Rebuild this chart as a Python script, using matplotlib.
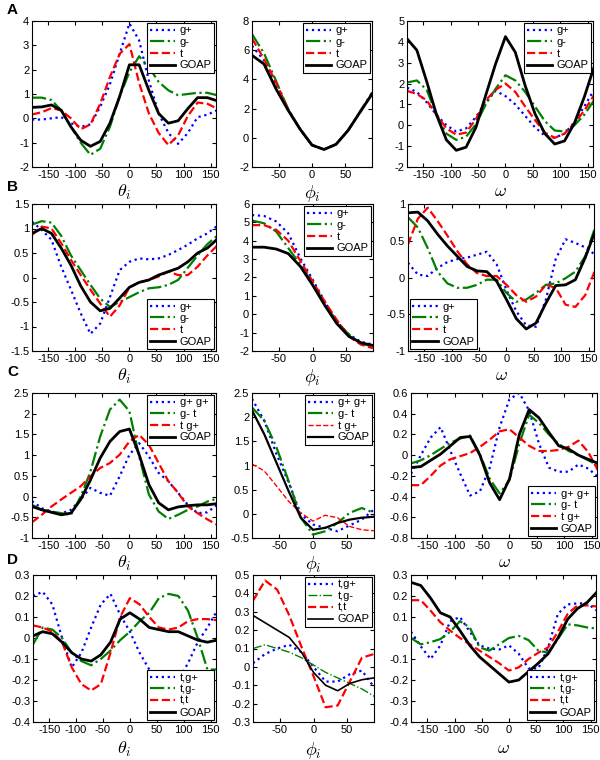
import numpy as np
import matplotlib
matplotlib.use('Agg')
import matplotlib.pyplot as plt

plt.rcParams['axes.unicode_minus'] = False
plt.rcParams['mathtext.fontset'] = 'cm'
plt.rcParams['font.family'] = ['Liberation Sans', 'DejaVu Sans']

# angle grids (degrees)
x_wide = [-180, -162, -144, -126, -108, -90, -72, -54, -36, -18,
          0, 18, 36, 54, 72, 90, 108, 126, 144, 162]
x_phi = [-90, -72, -54, -36, -18, 0, 18, 36, 54, 72, 90]

# ---- row A ----
a1_gp = [-0.05, -0.05, 0.0, 0.05, -0.2, -0.35, -0.25, 0.47, 1.4, 2.65, 3.9, 3.2, 1.55, 0.2, -0.6, -1.05, -0.6, 0.05, 0.15, 0.33]
a1_gm = [0.85, 0.85, 0.75, 0.33, -0.35, -1.0, -1.5, -1.25, -0.35, 0.9, 1.9, 2.55, 2.1, 1.5, 1.15, 0.95, 1.0, 1.05, 1.05, 0.95]
a1_t = [0.16, 0.25, 0.42, 0.33, 0.0, -0.45, -0.25, 0.6, 1.7, 2.65, 3.05, 1.45, 0.2, -0.6, -1.1, -0.7, 0.1, 0.65, 0.6, 0.4]
a1_goap = [0.45, 0.47, 0.55, 0.33, -0.35, -0.9, -1.15, -0.95, -0.2, 0.9, 2.2, 2.2, 1.15, 0.2, -0.2, -0.1, 0.4, 0.85, 0.85, 0.72]

a2_gp = [6.3, 5.3, 3.7, 1.95, 0.6, -0.5, -0.8, -0.45, 0.5, 1.75, 3.0]
a2_gm = [7.1, 5.8, 3.9, 2.0, 0.6, -0.5, -0.8, -0.45, 0.5, 1.8, 3.1]
a2_t = [6.8, 5.4, 3.8, 1.95, 0.6, -0.5, -0.8, -0.45, 0.5, 1.75, 3.0]
a2_goap = [5.65, 5.05, 3.35, 1.9, 0.6, -0.5, -0.8, -0.45, 0.5, 1.75, 3.0]

a3_gp = [1.8, 1.6, 1.1, 0.5, 0.0, -0.3, -0.15, 0.4, 1.1, 1.65, 1.4, 1.0, 0.45, -0.1, -0.5, -0.6, -0.4, 0.15, 0.9, 1.7]
a3_gm = [2.05, 2.15, 1.7, 0.5, -0.4, -0.7, -0.55, 0.05, 1.0, 1.75, 2.4, 2.15, 1.6, 0.9, 0.2, -0.25, -0.3, 0.0, 0.5, 1.2]
a3_t = [1.65, 1.5, 1.2, 0.5, -0.15, -0.45, -0.35, 0.3, 1.2, 1.7, 2.0, 1.6, 0.9, 0.25, -0.35, -0.6, -0.4, 0.1, 0.7, 1.45]
a3_goap = [4.15, 3.6, 2.1, 0.5, -0.7, -1.2, -1.05, -0.1, 1.45, 2.95, 4.25, 3.5, 1.9, 0.55, -0.4, -0.9, -0.75, 0.1, 1.35, 2.8]

# ---- row B ----
b1_gp = [1.14, 0.97, 0.77, 0.22, -0.25, -0.73, -1.15, -0.94, -0.4, 0.15, 0.32, 0.39, 0.37, 0.39, 0.46, 0.56, 0.67, 0.8, 0.9, 1.05]
b1_gm = [1.08, 1.15, 1.12, 0.85, 0.45, 0.15, -0.15, -0.43, -0.6, -0.5, -0.4, -0.3, -0.22, -0.2, -0.15, -0.05, 0.2, 0.45, 0.68, 0.85]
b1_t = [0.87, 1.04, 1.0, 0.7, 0.36, 0.05, -0.25, -0.53, -0.8, -0.57, -0.2, -0.1, -0.05, 0.02, 0.12, 0.05, 0.05, 0.22, 0.45, 0.65]
b1_goap = [0.9, 1.0, 0.9, 0.6, 0.25, -0.17, -0.5, -0.68, -0.63, -0.42, -0.2, -0.1, -0.05, 0.05, 0.12, 0.19, 0.32, 0.5, 0.6, 0.78]

b2_gp = [5.4, 5.35, 5.05, 4.4, 3.05, 1.9, 0.7, -0.4, -1.1, -1.5, -1.65]
b2_gm = [5.1, 4.95, 4.5, 3.6, 2.7, 1.7, 0.6, -0.4, -1.1, -1.6, -1.75]
b2_t = [4.85, 4.85, 4.6, 4.0, 2.9, 1.8, 0.7, -0.3, -1.2, -1.65, -1.85]
b2_goap = [3.65, 3.65, 3.55, 3.3, 2.6, 1.6, 0.5, -0.5, -1.2, -1.55, -1.7]

b3_gp = [0.2, 0.04, 0.02, 0.13, 0.21, 0.25, 0.27, 0.31, 0.35, 0.18, -0.17, -0.46, -0.65, -0.67, -0.3, 0.25, 0.52, 0.47, 0.41, 0.31]
b3_gm = [0.82, 0.68, 0.4, 0.08, -0.08, -0.14, -0.14, -0.1, -0.03, -0.03, -0.21, -0.33, -0.3, -0.21, -0.1, -0.08, -0.01, 0.08, 0.29, 0.68]
b3_t = [0.45, 0.8, 0.95, 0.77, 0.57, 0.36, 0.18, 0.06, 0.02, 0.02, -0.1, -0.24, -0.33, -0.26, -0.1, -0.14, -0.37, -0.4, -0.24, 0.1]
b3_goap = [0.88, 0.89, 0.77, 0.59, 0.43, 0.29, 0.15, 0.09, 0.08, -0.05, -0.3, -0.56, -0.7, -0.62, -0.35, -0.11, -0.1, -0.03, 0.27, 0.63]

# ---- row C ----
c1_gp = [-0.11, -0.28, -0.36, -0.41, -0.32, -0.07, 0.21, 0.09, 0.02, 0.49, 1.01, 1.29, 0.97, 0.57, 0.37, 0.09, -0.2, -0.4, -0.38, -0.2]
c1_gm = [-0.2, -0.32, -0.36, -0.4, -0.44, 0.0, 0.6, 1.45, 2.1, 2.34, 2.06, 0.97, 0.05, -0.36, -0.54, -0.44, -0.32, -0.24, -0.12, -0.05]
c1_t = [-0.62, -0.44, -0.24, -0.07, 0.09, 0.25, 0.49, 0.69, 0.81, 1.01, 1.33, 1.49, 1.25, 0.81, 0.37, 0.09, -0.24, -0.4, -0.55, -0.68]
c1_goap = [-0.24, -0.32, -0.38, -0.44, -0.4, -0.07, 0.4, 0.93, 1.33, 1.57, 1.63, 1.01, 0.29, -0.15, -0.32, -0.25, -0.22, -0.2, -0.2, -0.17]

c2_gp = [2.38, 1.93, 1.24, 0.65, -0.01, -0.22, -0.29, -0.36, -0.24, -0.12, 0.09]
c2_gm = [2.2, 1.93, 1.38, 0.68, -0.08, -0.43, -0.36, -0.19, 0.02, 0.12, 0.02]
c2_t = [1.03, 0.89, 0.58, 0.26, 0.02, -0.15, -0.03, -0.08, -0.26, -0.33, -0.35]
c2_goap = [2.14, 1.65, 1.06, 0.47, -0.08, -0.33, -0.29, -0.19, -0.12, -0.08, -0.06]

c3_gp = [-0.18, 0.0, 0.17, 0.27, 0.04, -0.18, -0.39, -0.35, -0.12, 0.27, 0.54, 0.6, 0.43, 0.11, -0.12, -0.16, -0.16, -0.09, -0.13, -0.21]
c3_gm = [-0.08, -0.05, 0.0, 0.06, 0.12, 0.16, 0.19, 0.01, -0.23, -0.37, -0.24, 0.11, 0.39, 0.31, 0.2, 0.11, 0.04, 0.0, -0.05, -0.1]
c3_t = [-0.29, -0.29, -0.2, -0.1, -0.04, -0.01, 0.02, 0.08, 0.15, 0.23, 0.25, 0.17, 0.09, 0.04, 0.04, 0.05, 0.08, 0.14, 0.03, -0.15]
c3_goap = [-0.12, -0.11, -0.05, 0.01, 0.09, 0.17, 0.18, 0.0, -0.27, -0.43, -0.23, 0.2, 0.44, 0.36, 0.22, 0.09, 0.06, 0.0, -0.04, -0.08]

# ---- row D ----
d1_gp = [0.2, 0.22, 0.16, 0.0, -0.14, -0.07, 0.05, 0.16, 0.21, 0.11, 0.03, -0.07, -0.15, -0.21, -0.21, -0.2, -0.12, -0.02, 0.05, 0.13]
d1_gm = [-0.03, 0.05, 0.04, 0.0, -0.07, -0.11, -0.13, -0.1, -0.06, -0.01, 0.03, 0.08, 0.12, 0.19, 0.21, 0.2, 0.13, 0.0, -0.15, -0.15]
d1_t = [0.06, 0.05, 0.03, -0.02, -0.14, -0.22, -0.25, -0.22, -0.07, 0.1, 0.19, 0.16, 0.1, 0.05, 0.04, 0.05, 0.08, 0.09, 0.09, 0.085]
d1_goap = [0.01, 0.03, 0.02, -0.02, -0.07, -0.1, -0.11, -0.08, -0.02, 0.09, 0.12, 0.09, 0.05, 0.04, 0.03, 0.03, 0.01, -0.01, -0.02, -0.01]

d2_gp = [0.02, 0.07, 0.1, 0.12, 0.08, 0.0, -0.08, -0.08, -0.04, -0.02, -0.11]
d2_gm = [0.1, 0.12, 0.1, 0.08, 0.05, 0.01, -0.03, -0.06, -0.09, -0.12, -0.16]
d2_t = [0.36, 0.47, 0.42, 0.28, 0.11, -0.05, -0.22, -0.21, -0.08, 0.05, 0.07]
d2_goap = [0.28, 0.24, 0.2, 0.16, 0.08, -0.03, -0.1, -0.13, -0.09, -0.07, -0.06]

d3_gp = [0.03, -0.04, -0.1, -0.035, 0.08, 0.1, 0.03, -0.035, -0.05, -0.055, -0.035, -0.075, -0.145, -0.145, -0.045, 0.115, 0.16, 0.165, 0.165, 0.13]
d3_gm = [0.0, -0.03, -0.02, -0.005, 0.03, 0.08, 0.05, -0.045, -0.06, -0.03, 0.0, 0.01, -0.01, -0.06, -0.07, -0.005, 0.065, 0.06, 0.05, 0.045]
d3_t = [0.18, 0.18, 0.13, 0.075, 0.035, 0.0, -0.03, -0.06, -0.09, -0.12, -0.155, -0.14, -0.1, -0.07, -0.045, 0.03, 0.115, 0.155, 0.155, 0.15]
d3_goap = [0.265, 0.25, 0.19, 0.12, 0.1, 0.035, -0.035, -0.09, -0.13, -0.17, -0.21, -0.2, -0.16, -0.12, -0.075, 0.0, 0.09, 0.14, 0.17, 0.22]

labels_ab = ['g+', 'g-', 't', 'GOAP']
labels_c = ['g+ g+', 'g- t', 't g+', 'GOAP']
labels_d = ['t,g+', 't,g-', 't,t', 'GOAP']

fig = plt.figure(figsize=(6, 7.6), dpi=100)
W, H = 600.0, 760.0


def make_ax(left, top, right, bottom):
    return fig.add_axes([left / W, 1 - bottom / H, (right - left) / W, (bottom - top) / H])


def draw(ax, xs, series, labels, xlim, ylim, yticks, xticks, xlabel, loc, lws=(1.6, 1.6, 1.6, 2.0), pad=2):
    styles = [(':', '#0000ff'), ('-.', '#008000'), ('--', '#ff0000'), ('-', 'black')]
    for ys, (ls, c), lw, lab in zip(series, styles, lws, labels):
        ax.plot(xs, ys, ls=ls, color=c, lw=lw, label=lab)
    ax.set_xlim(xlim)
    ax.set_ylim(ylim)
    ax.set_xticks(xticks)
    ax.set_yticks(yticks)
    ax.set_yticklabels([f'{round(v, 2):g}' for v in yticks])
    ax.set_xticklabels([f'{v:g}' for v in xticks])
    ax.tick_params(direction='in', top=True, right=True, length=3, labelsize=8, pad=2)
    ax.set_xlabel(xlabel, fontsize=13, labelpad=pad)
    leg = ax.legend(loc=loc, fontsize=8, frameon=True, fancybox=False, framealpha=1,
                    edgecolor='black', borderpad=0.25, labelspacing=0.15,
                    handlelength=2.3, handletextpad=0.4, borderaxespad=0.15)
    leg.get_frame().set_linewidth(0.8)
    for s in ax.spines.values():
        s.set_linewidth(0.8)


wide_ticks = [-150, -100, -50, 0, 50, 100, 150]
phi_ticks = [-50, 0, 50]
th = r'$\theta_i$'
ph = r'$\phi_i$'
om = r'$\omega$'

rows = [(21, 167), (204, 351), (393, 538), (575, 722)]

# row A
t, b = rows[0]
draw(make_ax(32, t, 216, b), x_wide, [a1_gp, a1_gm, a1_t, a1_goap], labels_ab, (-180, 160), (-2, 4),
     [-2, -1, 0, 1, 2, 3, 4], wide_ticks, th, 'upper right')
draw(make_ax(252, t, 372, b), x_phi, [a2_gp, a2_gm, a2_t, a2_goap], labels_ab, (-90, 90), (-2, 8),
     [-2, 0, 2, 4, 6, 8], phi_ticks, ph, 'upper right')
draw(make_ax(407, t, 593, b), x_wide, [a3_gp, a3_gm, a3_t, a3_goap], labels_ab, (-180, 160), (-2, 5),
     [-2, -1, 0, 1, 2, 3, 4, 5], wide_ticks, om, 'upper right')

# row B
t, b = rows[1]
draw(make_ax(32, t, 216, b), x_wide, [b1_gp, b1_gm, b1_t, b1_goap], labels_ab, (-180, 160), (-1.5, 1.5),
     [-1.5, -1, -0.5, 0, 0.5, 1, 1.5], wide_ticks, th, 'lower right')
draw(make_ax(252, t, 373, b), x_phi, [b2_gp, b2_gm, b2_t, b2_goap], labels_ab, (-90, 90), (-2, 6),
     [-2, -1, 0, 1, 2, 3, 4, 5, 6], phi_ticks, ph, 'upper right')
draw(make_ax(408, t, 594, b), x_wide, [b3_gp, b3_gm, b3_t, b3_goap], labels_ab, (-180, 160), (-1, 1),
     [-1, -0.5, 0, 0.5, 1], wide_ticks, om, 'lower left')

# row C
t, b = rows[2]
draw(make_ax(32, t, 216, b), x_wide, [c1_gp, c1_gm, c1_t, c1_goap], labels_c, (-180, 160), (-1, 2.5),
     [-1, -0.5, 0, 0.5, 1, 1.5, 2, 2.5], wide_ticks, th, 'upper right')
draw(make_ax(252, t, 374, b), x_phi, [c2_gp, c2_gm, c2_t, c2_goap], labels_c, (-90, 90), (-0.5, 2.5),
     [-0.5, 0, 0.5, 1, 1.5, 2, 2.5], phi_ticks, ph, 'upper right', lws=(1.6, 1.6, 1.0, 1.6))
draw(make_ax(411, t, 597, b), x_wide, [c3_gp, c3_gm, c3_t, c3_goap], labels_c, (-180, 160), (-0.8, 0.6),
     [-0.8, -0.6, -0.4, -0.2, 0, 0.2, 0.4, 0.6], wide_ticks, om, 'lower right')

# row D
t, b = rows[3]
d_yt = [-0.4, -0.3, -0.2, -0.1, 0, 0.1, 0.2, 0.3]
draw(make_ax(33, t, 216, b), x_wide, [d1_gp, d1_gm, d1_t, d1_goap], labels_d, (-180, 160), (-0.4, 0.3),
     d_yt, wide_ticks, th, 'lower right', pad=4)
draw(make_ax(253, t, 374, b), x_phi, [d2_gp, d2_gm, d2_t, d2_goap], labels_d, (-90, 90), (-0.3, 0.5),
     [-0.3, -0.2, -0.1, 0, 0.1, 0.2, 0.3, 0.4, 0.5], phi_ticks, ph, 'upper right',
     lws=(1.6, 1.0, 1.6, 1.2), pad=4)
draw(make_ax(411, t, 596, b), x_wide, [d3_gp, d3_gm, d3_t, d3_goap], labels_d, (-180, 160), (-0.4, 0.3),
     d_yt, wide_ticks, om, 'lower right', pad=4)

for letter, yy in zip('ABCD', [10, 187, 372, 560]):
    fig.text(7 / W, 1 - yy / H, letter, fontsize=11, fontweight='bold', va='center', ha='left')

fig.savefig('out.png', dpi=100)
